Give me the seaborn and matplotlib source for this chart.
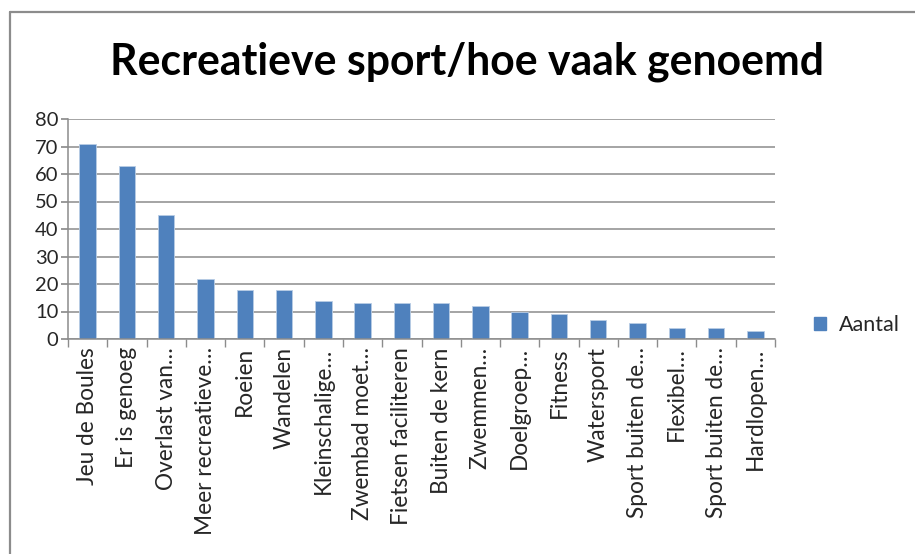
import matplotlib
matplotlib.use("Agg")
import matplotlib.pyplot as plt
import seaborn as sns
import pandas as pd
from matplotlib.lines import Line2D
from matplotlib.patches import Patch

categories = ["Jeu de Boules", "Er is genoeg", "Overlast van…", "Meer recreatieve…",
              "Roeien", "Wandelen", "Kleinschalige…", "Zwembad moet…",
              "Fietsen faciliteren", "Buiten de kern", "Zwemmen…", "Doelgroep…",
              "Fitness", "Watersport", "Sport buiten de…", "Flexibel…",
              "Sport buiten de…", "Hardlopen…"]
values = [71, 63, 45, 22, 18, 18, 14, 13, 13, 13, 12, 10, 9, 7, 6, 4, 4, 3]
yticks = [0, 10, 20, 30, 40, 50, 60, 70, 80]
series_name = "Aantal"
title = "Recreatieve sport/hoe vaak genoemd"

sns.set_theme(style="white")
plt.rcParams['font.family'] = ['Lato', 'DejaVu Sans']

df = pd.DataFrame({"cat": range(len(categories)), "val": values})

fig = plt.figure(figsize=(9.15, 5.54), dpi=100)
ax = fig.add_axes([68/915, 1-339/554, (775-68)/915, (339-119)/554])

bar_color = "#4F81BD"
sns.barplot(data=df, x="cat", y="val", color=bar_color, width=0.42,
            saturation=1, ax=ax, edgecolor="#B9CDE5", linewidth=0.6)

ax.set_xlim(-0.5, len(categories) - 0.5)
ax.set_ylim(0, 80)
ax.set_yticks(yticks)
ax.set_yticklabels([str(t) for t in yticks], fontsize=14.5)
ax.yaxis.grid(True, color="#8C8C8C", linewidth=1.1)
ax.set_axisbelow(True)
ax.set_xticks(range(len(categories)))
ax.set_xticklabels(categories, rotation=90, fontsize=16.3)
ax.tick_params(axis="x", length=0, pad=6)
ax.tick_params(axis="y", length=5, color="#8C8C8C", direction="out", left=True, pad=2)
# category boundary ticks
ax.set_xticks([i - 0.5 for i in range(len(categories) + 1)], minor=True)
ax.tick_params(axis="x", which="minor", length=6, color="#8C8C8C", direction="out", bottom=True)
ax.set_xlabel("")
ax.set_ylabel("")
for s in ["top", "right"]:
    ax.spines[s].set_visible(False)
for s in ["left", "bottom"]:
    ax.spines[s].set_color("#8C8C8C")
    ax.spines[s].set_linewidth(1.1)

fig.text(467/915, 1-62/554, title, ha="center", va="center", fontsize=30.8,
         fontweight="bold", color="black")

handles = [Patch(facecolor=bar_color, edgecolor=bar_color)]
fig.legend(handles, [series_name], loc="center left", bbox_to_anchor=(795/915, 1-325/554),
           frameon=False, fontsize=15.5, handlelength=0.55, handleheight=0.55, handletextpad=0.6)

# outer chart border (top and left edges visible)
fig.add_artist(Line2D([10/915, 1], [1-12/554, 1-12/554], color="#8C8C8C", linewidth=1.6,
                      transform=fig.transFigure))
fig.add_artist(Line2D([10/915, 10/915], [0, 1-12/554], color="#8C8C8C", linewidth=1.6,
                      transform=fig.transFigure))

fig.savefig("out.png", dpi=100)
